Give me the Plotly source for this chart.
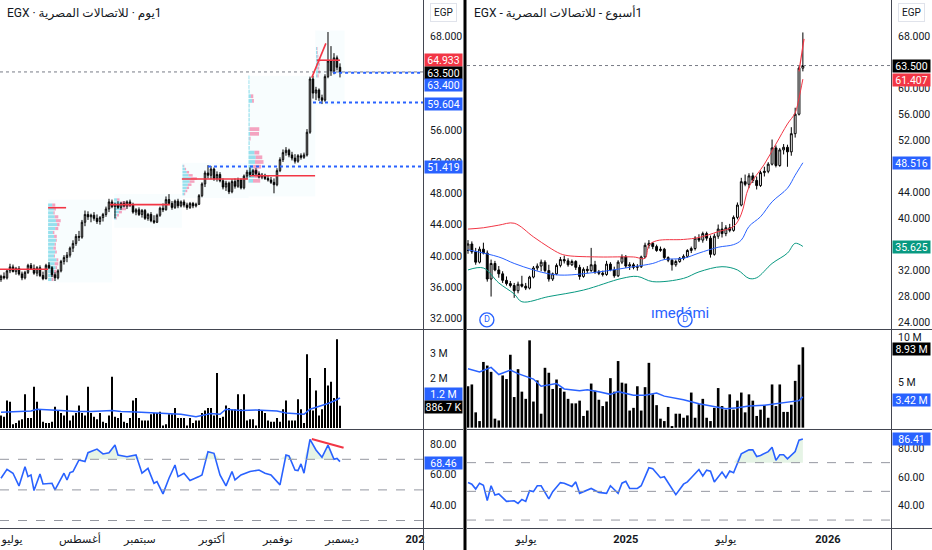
import plotly.graph_objects as go

W, H = 932, 550


def px(x):
    return x / W


def py(y):
    return 1 - y / H


# ---------------- left chart: daily candles ----------------
d_open = [37.0, 37.4, 37.2, 38.1, 38.6, 38.0, 38.4, 37.7, 37.2, 37.9, 38.8, 38.4, 37.8, 38.5, 37.5, 37.1,
          38.8, 38.5, 37.6, 37.2, 38.1, 39.3, 39.8, 40.1, 41.0, 41.6, 42.5, 42.4, 44.3, 45.3, 45.0, 45.2,
          44.8, 44.4, 44.9, 45.3, 46.0, 46.9, 46.3, 46.6, 46.2, 46.7, 46.4, 46.9, 46.5, 45.6, 45.9, 45.3,
          45.8, 44.8, 45.3, 44.5, 44.3, 45.2, 46.1, 45.9, 47.2, 46.7, 46.2, 47.0, 46.4, 46.9, 46.5, 46.2,
          46.7, 46.4, 46.6, 47.7, 49.2, 50.6, 50.3, 51.1, 49.9, 50.4, 49.6, 48.8, 49.3, 48.2, 49.5, 48.9,
          49.7, 48.7, 50.2, 50.7, 50.4, 50.9, 50.5, 50.1, 50.3, 49.9, 49.7, 49.4, 49.1, 50.9, 52.3, 53.2,
          53.5, 52.9, 52.5, 52.1, 52.8, 52.6, 52.9, 55.8, 62.6, 60.8, 61.2, 60.2, 59.9, 62.9, 64.9, 63.6,
          65.3, 64.1]
d_high = [37.6, 37.9, 38.3, 39.0, 38.9, 38.6, 38.7, 38.0, 38.1, 39.0, 39.1, 38.9, 38.7, 38.8, 38.0, 39.0,
          39.2, 38.7, 37.9, 38.3, 39.5, 40.1, 40.5, 41.2, 42.0, 42.8, 43.2, 44.6, 45.8, 45.7, 45.4, 45.6,
          45.3, 45.1, 45.5, 46.3, 47.3, 47.2, 46.8, 47.0, 46.9, 47.0, 47.1, 47.2, 46.8, 46.1, 46.2, 46.0,
          46.0, 45.5, 45.6, 45.2, 45.4, 46.3, 46.7, 47.6, 47.9, 47.0, 47.2, 47.3, 47.1, 47.2, 46.8, 46.9,
          46.9, 46.8, 47.9, 49.4, 50.9, 51.6, 51.5, 51.3, 50.8, 50.7, 49.9, 49.6, 49.5, 49.8, 49.9, 50.0,
          49.9, 50.4, 51.0, 51.3, 51.1, 51.2, 50.8, 50.6, 50.5, 50.3, 50.1, 49.9, 51.2, 52.6, 53.6, 53.9,
          53.7, 53.3, 53.0, 53.0, 53.1, 53.2, 56.2, 62.9, 63.0, 61.6, 61.4, 60.6, 63.2, 68.6, 66.8, 65.9,
          65.6, 64.6]
d_low = [36.7, 37.0, 37.0, 37.8, 37.9, 37.6, 37.5, 36.9, 37.0, 37.7, 38.2, 37.6, 37.4, 37.3, 36.9, 37.0,
         38.3, 37.3, 36.8, 37.0, 37.9, 38.9, 39.2, 39.8, 40.5, 41.3, 41.9, 42.2, 43.8, 44.6, 44.3, 44.5,
         44.1, 44.0, 44.4, 45.0, 45.6, 46.1, 44.8, 46.0, 45.9, 46.2, 46.0, 46.3, 45.4, 45.2, 45.1, 44.9,
         44.6, 44.5, 44.3, 44.1, 44.2, 45.0, 45.6, 45.8, 46.5, 45.9, 46.0, 46.1, 46.2, 46.2, 45.9, 46.0,
         46.1, 46.2, 46.5, 47.5, 48.8, 49.9, 49.8, 49.6, 49.5, 49.4, 48.5, 48.3, 47.9, 48.0, 48.6, 48.7,
         48.5, 48.5, 49.8, 50.1, 50.2, 50.3, 49.9, 49.8, 49.7, 49.5, 49.2, 48.0, 48.9, 50.7, 52.0, 52.8,
         52.6, 52.2, 51.8, 51.9, 52.3, 52.4, 52.7, 55.6, 60.1, 59.9, 59.8, 59.4, 59.7, 62.7, 63.0, 63.2,
         63.7, 62.8]
d_close = [37.4, 37.2, 38.1, 38.6, 38.0, 38.4, 37.7, 37.2, 37.9, 38.8, 38.4, 37.8, 38.5, 37.5, 37.1, 38.8,
           38.5, 37.6, 37.2, 38.1, 39.3, 39.8, 40.1, 41.0, 41.6, 42.5, 42.4, 44.3, 45.3, 45.0, 45.2, 44.8,
           44.4, 44.9, 45.3, 46.0, 46.9, 46.3, 46.6, 46.2, 46.7, 46.4, 46.9, 46.5, 45.6, 45.9, 45.3, 45.8,
           44.8, 45.3, 44.5, 44.3, 45.2, 46.1, 45.9, 47.2, 46.7, 46.2, 47.0, 46.4, 46.9, 46.5, 46.2, 46.7,
           46.4, 46.6, 47.7, 49.2, 50.6, 50.3, 51.1, 49.9, 50.4, 49.6, 48.8, 49.3, 48.2, 49.5, 48.9, 49.7,
           48.7, 50.2, 50.7, 50.4, 50.9, 50.5, 50.1, 50.3, 49.9, 49.7, 49.4, 49.1, 50.9, 52.3, 53.2, 53.5,
           52.9, 52.5, 52.1, 52.8, 52.6, 52.9, 55.8, 62.6, 60.8, 61.2, 60.2, 59.9, 62.9, 64.9, 63.6, 65.3,
           64.1, 63.5]
d_volume = [0.5, 0.45, 1.1, 1.05, 0.15, 0.2, 0.3, 0.35, 1.35, 0.4, 0.4, 1.65, 1.05, 0.75, 0.25, 0.2,
            0.2, 0.25, 0.85, 0.7, 0.6, 0.5, 1.3, 0.3, 0.5, 0.6, 0.9, 0.6, 0.5, 1.65, 0.6, 0.45,
            0.35, 0.6, 0.25, 0.2, 0.5, 2.05, 0.45, 0.4, 0.6, 0.25, 0.2, 0.4, 1.1, 1.2, 0.4, 0.3,
            0.3, 0.3, 0.55, 0.6, 0.6, 0.65, 0.1, 0.15, 0.55, 0.55, 0.8, 0.4, 0.4, 0.4, 0.1, 0.4,
            0.2, 0.3, 0.3, 0.6, 0.7, 0.8, 0.8, 0.5, 2.2, 0.4, 0.45, 0.9, 0.8, 0.75, 0.75, 1.35,
            0.75, 1.35, 0.3, 0.35, 0.35, 0.1, 0.75, 0.7, 0.6, 0.3, 0.25, 0.25, 0.4, 0.25, 0.75, 1.1,
            0.3, 0.3, 0.3, 1.15, 0.75, 0.2, 2.95, 2.0, 0.7, 1.5, 0.5, 0.75, 2.4, 1.7, 1.85, 1.2,
            3.55, 0.89]
d_vma_x = [0, 5, 10, 12, 15, 20, 25, 30, 37, 40, 45, 50, 55, 60, 65, 67, 70, 73, 75, 78, 80, 85, 88,
           92, 95, 98, 101, 103, 106, 109, 111, 113]
d_vma = [0.63, 0.66, 0.68, 0.75, 0.72, 0.70, 0.66, 0.66, 0.70, 0.66, 0.64, 0.62, 0.58, 0.55, 0.45, 0.50,
         0.58, 0.55, 0.75, 0.72, 0.70, 0.72, 0.70, 0.68, 0.60, 0.58, 0.55, 0.75, 0.85, 0.98, 1.08, 1.2]
d_rsi_x = [0, 2, 4, 6, 8, 9, 10, 11, 13, 14, 17, 18, 21, 22, 23, 24, 26, 28, 29, 32, 34, 36, 38, 39,
           42, 45, 47, 49, 51, 52, 54, 56, 58, 59, 61, 63, 66, 67, 69, 71, 73, 75, 77, 78, 80, 83,
           86, 88, 90, 93, 95, 96, 98, 99, 100, 101, 103, 105, 107, 109, 111, 112, 113]
d_rsi = [57.6, 63.5, 60.9, 52.6, 65.2, 58.7, 59.8, 49.6, 60.4, 53.9, 54.3, 50.0, 60.9, 56.5, 61.3, 62.0,
         69.6, 68.5, 74.3, 76.7, 73.5, 74.3, 79.3, 72.8, 71.7, 72.8, 60.9, 64.1, 54.3, 55.4, 47.4, 57.6,
         66.3, 58.7, 60.9, 56.1, 58.7, 59.8, 75.0, 73.9, 59.8, 52.6, 62.0, 56.5, 59.8, 62.0, 63.0, 60.9,
         59.8, 53.3, 72.8, 72.2, 63.0, 62.6, 67.0, 60.9, 83.0, 76.1, 71.3, 79.3, 70.0, 70.6, 68.46]

# visible-range volume profiles (left chart)
vp_base = [15.7, 37.7, 60.5, 82.5, 105.0]
vp_step = [0.5, 0.4, 0.4, 0.6, 0.5]
vp_levels = [
    [37.0, 37.5, 38.0, 38.5, 39.0, 39.5, 40.0, 40.5, 41.0, 41.5, 42.0, 42.5, 43.0, 43.5, 44.0, 44.5,
     45.0, 45.5, 46.0, 46.5],
    [44.8, 45.2, 45.6, 46.0, 46.4, 46.8, 47.2],
    [47.9, 48.3, 48.7, 49.1, 49.5, 49.9, 50.3, 50.7, 51.1, 51.5],
    [49.6, 50.2, 50.8, 51.4, 52.0, 52.6, 53.2, 53.8, 54.4, 55.0, 55.6, 56.2, 56.8, 57.4, 58.0, 58.6,
     59.2, 59.8, 60.4, 61.0, 61.6, 62.2, 62.8],
    [63.0, 63.5, 64.0, 64.5, 65.0, 65.5, 66.0, 66.5],
]
vp_up = [
    [1.2, 1.5, 2.0, 2.5, 2.2, 2.8, 2.0, 2.4, 1.8, 2.2, 2.6, 2.0, 1.6, 2.4, 3.0, 2.6, 2.2, 1.8, 2.0, 1.4],
    [0.6, 1.0, 1.6, 2.4, 3.0, 2.2, 1.0],
    [0.6, 1.0, 1.4, 1.8, 2.4, 2.8, 2.0, 1.4, 0.8, 0.4],
    [1.5, 2.0, 1.8, 1.6, 2.2, 2.4, 2.0, 0.4, 0.4, 0.4, 0.5, 0.4, 0.4, 0.4, 0.4, 0.4, 0.4, 1.2, 0.8, 0.4,
     0.3, 0.3, 0.3],
    [0.5, 0.8, 0.6, 1.0, 0.8, 0.5, 0.4, 0.3],
]
vp_down = [
    [0.6, 0.4, 0.8, 0.5, 1.2, 0.6, 0.3, 0.5, 0.8, 0.4, 0.3, 0.9, 0.5, 1.0, 0.8, 1.6, 1.2, 0.4, 0.6, 1.0],
    [0.3, 0.6, 1.0, 1.6, 2.6, 1.8, 0.8],
    [0.3, 0.6, 0.8, 1.2, 1.6, 2.0, 1.4, 0.8, 0.4, 0.2],
    [2.4, 2.8, 1.4, 2.6, 2.8, 2.2, 1.6, 0.0, 0.0, 0.3, 3.0, 3.2, 0.0, 0.0, 0.0, 0.0, 0.0, 0.6, 0.8, 0.0,
     0.0, 0.0, 0.0],
    [0.4, 0.6, 0.5, 0.3, 0.6, 0.3, 0.2, 0.2],
]
# point of control lines: (start idx, end idx, price)
poc_x0 = [-1, 15.7, 36.3, 60.3, 83.0, 105.3]
poc_x1 = [15.7, 21.7, 56.3, 82.3, 104.7, 113.0]
poc_y = [38.3, 46.16, 46.55, 49.83, 50.25, 65.0]
# blue dotted levels: (start idx, price)
lvl_x0 = [69.0, 104.0, 110.7]
lvl_y = [51.419, 59.604, 63.4]

# ---------------- right chart: weekly candles ----------------
w_open = [35.0, 36.0, 34.8, 33.2, 35.2, 34.6, 30.6, 33.0, 32.0, 31.4, 30.4, 29.9, 29.6, 28.8, 29.8, 29.5,
          29.2, 30.9, 32.3, 32.6, 33.2, 31.9, 30.6, 31.4, 32.7, 33.6, 33.4, 32.8, 33.3, 32.4, 31.0, 32.1,
          31.9, 32.8, 31.7, 31.5, 31.3, 32.9, 32.0, 31.1, 33.2, 34.0, 32.6, 32.8, 32.4, 32.5, 34.0, 35.8,
          36.1, 35.6, 35.0, 35.2, 33.9, 33.5, 32.8, 33.3, 33.8, 34.1, 35.0, 35.3, 36.9, 36.6, 37.6, 36.9,
          34.4, 37.2, 38.3, 37.6, 38.5, 38.1, 40.1, 42.0, 45.6, 45.2, 46.5, 45.8, 45.0, 47.0, 47.2, 48.3,
          50.8, 48.1, 50.5, 50.9, 50.2, 53.0, 56.0, 63.1]
w_high = [36.6, 36.4, 35.4, 35.6, 36.2, 35.0, 33.6, 33.4, 32.6, 31.8, 31.0, 30.3, 30.0, 30.2, 31.1, 30.0,
          31.1, 32.6, 33.0, 33.6, 33.5, 32.8, 31.6, 33.0, 34.0, 34.2, 33.8, 33.6, 33.5, 32.8, 32.4, 32.6,
          35.4, 33.4, 32.0, 31.9, 33.4, 33.2, 32.5, 33.5, 34.4, 34.3, 33.2, 33.1, 32.9, 34.2, 36.2, 36.6,
          36.3, 35.9, 35.6, 35.4, 34.1, 33.7, 33.6, 34.0, 34.4, 35.2, 35.6, 37.2, 37.5, 37.9, 37.9, 37.3,
          37.6, 39.0, 39.4, 38.9, 39.1, 40.4, 42.4, 46.2, 46.7, 46.9, 47.0, 46.4, 47.3, 47.9, 48.6, 52.1,
          51.2, 50.8, 51.4, 51.3, 54.0, 57.0, 63.4, 68.6]
w_low = [34.5, 34.5, 32.8, 33.0, 34.4, 30.2, 27.9, 31.8, 30.8, 30.0, 29.6, 29.3, 27.7, 28.4, 29.3, 28.9,
         29.0, 30.7, 31.9, 31.8, 31.6, 30.2, 30.3, 31.2, 32.4, 33.0, 32.5, 32.6, 32.0, 30.5, 30.8, 31.5,
         31.7, 31.4, 31.2, 31.0, 31.1, 31.8, 30.8, 30.9, 32.9, 32.3, 32.0, 32.1, 31.9, 32.3, 33.8, 35.3,
         35.2, 34.8, 34.8, 33.6, 33.2, 31.9, 32.5, 33.1, 33.5, 33.9, 34.6, 35.0, 36.3, 36.2, 36.5, 33.9,
         34.2, 36.8, 37.0, 37.2, 37.8, 37.9, 39.8, 41.8, 44.9, 44.6, 45.4, 44.4, 44.8, 46.4, 46.9, 48.1,
         47.8, 47.9, 49.8, 47.9, 49.6, 52.4, 55.8, 62.6]
w_close = [36.0, 34.8, 33.2, 35.2, 34.6, 30.6, 33.0, 32.0, 31.4, 30.4, 29.9, 29.6, 28.8, 29.8, 29.5, 29.2,
           30.9, 32.3, 32.6, 33.2, 31.9, 30.6, 31.4, 32.7, 33.6, 33.4, 32.8, 33.3, 32.4, 31.0, 32.1, 31.9,
           32.8, 31.7, 31.5, 31.3, 32.9, 32.0, 31.1, 33.2, 34.0, 32.6, 32.8, 32.4, 32.5, 34.0, 35.8, 36.1,
           35.6, 35.0, 35.2, 33.9, 33.5, 32.8, 33.3, 33.8, 34.1, 35.0, 35.3, 36.9, 36.6, 37.6, 36.9, 34.4,
           37.2, 38.3, 37.6, 38.5, 38.1, 40.1, 42.0, 45.6, 45.2, 46.5, 45.8, 45.0, 47.0, 47.2, 48.3, 50.8,
           48.1, 50.5, 50.9, 50.2, 53.0, 56.0, 63.1, 63.5]
w_volume = [4.6, 4.8, 1.7, 0.73, 7.3, 6.9, 6.2, 1.0, 0.8, 5.8, 5.4, 8.1, 3.4, 6.5, 4.0, 3.2,
            9.7, 2.9, 5.25, 1.55, 6.65, 6.1, 4.3, 5.35, 4.4, 4.0, 3.2, 2.7, 2.7, 3.0, 1.3, 1.9,
            4.9, 4.1, 3.1, 2.4, 2.9, 5.5, 4.0, 7.4, 5.0, 4.9, 1.9, 2.2, 4.6, 1.9, 4.5, 7.2,
            3.7, 2.5, 1.0, 0.73, 2.3, 0.15, 1.55, 1.55, 1.1, 1.36, 3.9, 1.1, 2.6, 3.2, 1.1, 0.73,
            2.2, 4.4, 2.4, 2.0, 3.7, 2.0, 3.0, 3.9, 1.7, 3.7, 3.0, 1.3, 2.0, 2.5, 1.1, 4.8,
            2.4, 4.8, 1.75, 1.75, 2.55, 5.2, 7.0, 8.93]
w_vma_x = [0, 3, 6, 8, 11, 13, 17, 19, 23, 25, 29, 31, 34, 37, 39, 43, 46, 49, 51, 56, 60, 63, 67, 70,
           73, 77, 81, 84, 86, 87]
w_vma = [6.55, 6.2, 6.7, 5.9, 6.4, 6.0, 5.4, 4.6, 4.9, 4.3, 4.1, 4.2, 4.0, 3.7, 4.0, 3.6, 3.6, 3.85, 3.5,
         3.1, 2.65, 2.4, 2.1, 2.2, 2.4, 2.5, 2.7, 2.85, 3.0, 3.42]
w_rsi_x = [0, 1, 2, 3, 4, 5, 6, 7, 8, 10, 12, 13, 14, 15, 16, 17, 18, 19, 21, 22, 24, 25, 27, 28, 29,
           31, 32, 34, 36, 37, 39, 40, 41, 42, 44, 45, 47, 48, 50, 51, 53, 54, 56, 57, 58, 60, 61, 62,
           63, 64, 66, 67, 68, 69, 71, 73, 74, 75, 76, 77, 78, 79, 80, 81, 82, 83, 85, 86, 87]
w_rsi = [56.1, 55.0, 51.6, 55.7, 54.3, 43.6, 53.9, 47.5, 48.2, 43.0, 43.4, 41.6, 44.3, 43.0, 50.5, 49.8,
         53.9, 53.9, 44.8, 49.8, 56.1, 55.7, 53.4, 56.6, 48.6, 51.1, 52.0, 49.3, 48.6, 53.9, 48.6, 55.7,
         57.0, 52.0, 52.0, 53.9, 66.4, 65.7, 59.5, 60.2, 51.6, 47.7, 55.0, 56.6, 59.5, 65.2, 60.7, 64.8,
         64.1, 56.6, 63.4, 59.5, 64.1, 63.0, 76.1, 78.9, 78.9, 74.3, 75.0, 76.6, 77.7, 80.7, 71.6, 75.5,
         75.5, 72.7, 77.7, 85.7, 86.41]
# bollinger bands (weekly)
bb_up_x = [0, 4, 8, 12, 17, 21, 24, 26, 34, 43, 46, 47, 49, 56, 60, 65, 69, 71, 73, 77, 80, 83, 85, 86, 87]
bb_up = [38.3, 38.5, 38.9, 39.2, 37.1, 35.5, 34.5, 34.2, 34.0, 34.0, 33.8, 35.8, 36.5, 36.7, 37.0, 37.9,
         38.7, 40.6, 44.8, 48.3, 51.4, 54.5, 56.2, 58.5, 61.407]
bb_mid_x = [0, 8, 12, 17, 21, 25, 34, 43, 48, 51, 56, 60, 65, 69, 71, 73, 76, 79, 83, 85, 87]
bb_mid = [35.1, 34.0, 33.0, 32.0, 31.4, 31.2, 31.7, 32.5, 33.0, 33.6, 33.8, 34.6, 35.5, 35.9, 36.6, 38.7,
          40.2, 42.5, 44.6, 46.6, 48.516]
bb_low_x = [0, 4, 8, 12, 14, 21, 30, 40, 44, 48, 56, 60, 66, 70, 73, 75, 79, 83, 85, 87]
bb_low = [32.0, 32.3, 30.0, 28.3, 27.1, 27.9, 28.9, 30.7, 31.0, 30.2, 30.7, 31.7, 32.5, 32.0, 30.7, 30.8,
          33.0, 34.6, 36.1, 35.625]
div_x = [4.9, 56.4]

# ---------------- axis text ----------------
LRM, RLM = "\u200e", "\u200f"
l_title = "EGX · المصرية" + LRM + " للاتصالات" + LRM + " · " + LRM + RLM + "1يوم"
r_title = "EGX - المصرية" + LRM + " للاتصالات" + LRM + " - " + LRM + RLM + "1أسبوع"
l_month_pos = [3.7, 26.3, 46.3, 70.3, 92.3, 113.7, 138]
l_month_txt = ["يوليو", "أغسطس", "سبتمبر", "أكتوبر", "نوفمبر", "ديسمبر", "<b>202</b>"]
r_month_pos = [15.1, 41.0, 67.0, 93.5]
r_month_txt = ["يوليو", "<b>2025</b>", "يوليو", "<b>2026</b>"]
l_price_ticks = [32, 36, 40, 44, 48, 52, 56, 68]
r_price_ticks = [24, 28, 32, 40, 44, 52, 56, 60, 68]

INK = "#131722"
BLUE = "#2962ff"
RED = "#f23645"
GREEN = "#089981"
LINE = "#434651"
FONT = "Roboto, 'DejaVu Sans', sans-serif"

L_X = [0, px(423)]
R_X = [px(467), px(891)]
PRICE_Y = [py(329), py(0)]
VOL_Y = [py(429), py(330)]
RSI_Y = [py(528), py(430)]

fig = go.Figure()

# volume profiles
for base, step, lv, up, dn in zip(vp_base, vp_step, vp_levels, vp_up, vp_down):
    fig.add_trace(go.Bar(y=lv, x=up, base=[base] * len(lv), orientation="h", width=step * 0.8,
                         marker=dict(color="rgba(70,200,222,0.55)", line=dict(width=0)),
                         xaxis="x", yaxis="y"))
    fig.add_trace(go.Bar(y=lv, x=dn, base=[base + u for u in up], orientation="h", width=step * 0.8,
                         marker=dict(color="rgba(240,90,140,0.55)", line=dict(width=0)),
                         xaxis="x", yaxis="y"))

candle_style = dict(
    increasing=dict(line=dict(color="#000000", width=1), fillcolor="#ffffff"),
    decreasing=dict(line=dict(color="#000000", width=1), fillcolor="#000000"),
    whiskerwidth=0, hoverinfo="skip",
)
fig.add_trace(go.Candlestick(x=list(range(len(d_close))), open=d_open, high=d_high, low=d_low,
                             close=d_close, xaxis="x", yaxis="y", **candle_style))

# left volume + MA
fig.add_trace(go.Bar(x=list(range(len(d_volume))), y=d_volume, width=0.62,
                     marker=dict(color="#000000", line=dict(width=0)), xaxis="x3", yaxis="y3"))
fig.add_trace(go.Scatter(x=d_vma_x, y=d_vma, mode="lines", line=dict(color=BLUE, width=1.5),
                         xaxis="x3", yaxis="y3"))

# left RSI with fill above 70
fig.add_trace(go.Scatter(x=d_rsi_x, y=[70] * len(d_rsi_x), mode="lines", line=dict(width=0),
                         xaxis="x5", yaxis="y5"))
fig.add_trace(go.Scatter(x=d_rsi_x, y=[max(v, 70) for v in d_rsi], mode="lines", line=dict(width=0),
                         fill="tonexty", fillcolor="rgba(76,175,80,0.14)", xaxis="x5", yaxis="y5"))
fig.add_trace(go.Scatter(x=d_rsi_x, y=d_rsi, mode="lines", line=dict(color=BLUE, width=1.6),
                         xaxis="x5", yaxis="y5"))

# right: bollinger + candles
fig.add_trace(go.Scatter(x=bb_up_x, y=bb_up, mode="lines", line=dict(color=RED, width=1, shape="spline"),
                         xaxis="x2", yaxis="y2"))
fig.add_trace(go.Scatter(x=bb_mid_x, y=bb_mid, mode="lines", line=dict(color=BLUE, width=1, shape="spline"),
                         xaxis="x2", yaxis="y2"))
fig.add_trace(go.Scatter(x=bb_low_x, y=bb_low, mode="lines", line=dict(color=GREEN, width=1, shape="spline"),
                         xaxis="x2", yaxis="y2"))
fig.add_trace(go.Candlestick(x=list(range(len(w_close))), open=w_open, high=w_high, low=w_low,
                             close=w_close, xaxis="x2", yaxis="y2", **candle_style))
fig.add_trace(go.Scatter(x=[55.1], y=[25.1], mode="text", text=["ımedámi"],
                         textfont=dict(color=BLUE, size=15, family=FONT), xaxis="x2", yaxis="y2"))
fig.add_trace(go.Scatter(x=div_x, y=[24.3] * len(div_x), mode="markers+text", text=["D"] * len(div_x),
                         textposition="middle center", textfont=dict(color=BLUE, size=9, family=FONT),
                         marker=dict(size=14, color="#ffffff", line=dict(color=BLUE, width=1.4)),
                         xaxis="x2", yaxis="y2"))

# right volume + MA
fig.add_trace(go.Bar(x=list(range(len(w_volume))), y=w_volume, width=0.68,
                     marker=dict(color="#000000", line=dict(width=0)), xaxis="x4", yaxis="y4"))
fig.add_trace(go.Scatter(x=w_vma_x, y=w_vma, mode="lines", line=dict(color=BLUE, width=1.5),
                         xaxis="x4", yaxis="y4"))

# right RSI
fig.add_trace(go.Scatter(x=w_rsi_x, y=[70] * len(w_rsi_x), mode="lines", line=dict(width=0),
                         xaxis="x6", yaxis="y6"))
fig.add_trace(go.Scatter(x=w_rsi_x, y=[max(v, 70) for v in w_rsi], mode="lines", line=dict(width=0),
                         fill="tonexty", fillcolor="rgba(76,175,80,0.14)", xaxis="x6", yaxis="y6"))
fig.add_trace(go.Scatter(x=w_rsi_x, y=w_rsi, mode="lines", line=dict(color=BLUE, width=1.6),
                         xaxis="x6", yaxis="y6"))

# ---------------- axes ----------------
L_RANGE = [-0.33, 140.67]
R_RANGE = [-0.26, 109.9]
tick_font = dict(family=FONT, size=10.5, color=INK)


def xax(domain, rng, anchor, labels=None):
    d = dict(domain=domain, range=rng, anchor=anchor, showgrid=False, zeroline=False,
             showline=False, ticks="", rangeslider=dict(visible=False), fixedrange=True)
    if labels:
        d.update(tickmode="array", tickvals=labels[0], ticktext=labels[1],
                 tickfont=dict(family=FONT, size=11, color=INK), ticklabelstandoff=3)
    else:
        d.update(showticklabels=False)
    return d


def yax(domain, rng, anchor, vals, texts):
    return dict(domain=domain, range=rng, anchor=anchor, side="right", showgrid=False,
                zeroline=False, showline=False, ticks="", tickmode="array", tickvals=vals,
                ticktext=texts, tickfont=tick_font, ticklabelstandoff=6, fixedrange=True)


fig.update_layout(
    xaxis=xax(L_X, L_RANGE, "y"),
    xaxis3=xax(L_X, L_RANGE, "y3"),
    xaxis5=xax(L_X, L_RANGE, "y5", (l_month_pos, l_month_txt)),
    xaxis2=xax(R_X, R_RANGE, "y2"),
    xaxis4=xax(R_X, R_RANGE, "y4"),
    xaxis6=xax(R_X, R_RANGE, "y6", (r_month_pos, r_month_txt)),
    yaxis=yax(PRICE_Y, [30.67, 72.69], "x", l_price_ticks, [f"{v:.3f}" for v in l_price_ticks]),
    yaxis3=yax(VOL_Y, [-0.04, 3.92], "x3", [2, 3], ["2 M", "3 M"]),
    yaxis5=yax(RSI_Y, [25.1, 89.15], "x5", [40, 60, 80], ["40.00", "60.00", "80.00"]),
    yaxis2=yax(PRICE_Y, [22.9, 73.6], "x2", r_price_ticks, [f"{v:.3f}" for v in r_price_ticks]),
    yaxis4=yax(VOL_Y, [-0.15, 10.85], "x4", [5, 10], ["5 M", "10 M"]),
    yaxis6=yax(RSI_Y, [24.46, 92.75], "x6", [40, 60, 80], ["40.00", "60.00", "80.00"]),
)

shapes = []
# faint visible-range shading behind the profiles
shade = [(15.7, 37.0, 36.6, 47.2), (37.7, 60.3, 43.6, 47.9), (60.3, 82.5, 47.4, 51.9),
         (82.5, 104.8, 47.6, 63.0), (104.8, 114.5, 59.2, 68.8)]
for x0, x1, y0, y1 in shade:
    shapes.append(dict(type="rect", xref="x", yref="y", x0=x0, x1=x1, y0=y0, y1=y1,
                       fillcolor="rgba(178,235,242,0.09)", line=dict(width=0), layer="below"))
# last price lines
for xr, yr in (("x domain", "y"), ("x2 domain", "y2")):
    shapes.append(dict(type="line", xref=xr, yref=yr, x0=0, x1=1, y0=63.5, y1=63.5,
                       line=dict(color="#787b86", width=1, dash="dot")))
# POC lines and drawings
for x0, x1, y in zip(poc_x0, poc_x1, poc_y):
    shapes.append(dict(type="line", xref="x", yref="y", x0=x0, x1=x1, y0=y, y1=y,
                       line=dict(color=RED, width=1.6)))
shapes.append(dict(type="line", xref="x", yref="y", x0=103.6, x1=108.3, y0=62.77, y1=67.15,
                   line=dict(color=RED, width=1.6)))
for x0, y in zip(lvl_x0, lvl_y):
    shapes.append(dict(type="line", xref="x", yref="y", x0=x0, x1=L_RANGE[1], y0=y, y1=y,
                       line=dict(color=BLUE, width=2, dash="dot")))
shapes.append(dict(type="line", xref="x2", yref="y2", x0=86.0, x1=87.3, y0=62.6, y1=67.6,
                   line=dict(color=RED, width=1.2)))
shapes.append(dict(type="line", xref="x5", yref="y5", x0=103.6, x1=114.2, y0=83.3, y1=77.6,
                   line=dict(color=RED, width=2)))
# RSI guide lines
for xr, yr in (("x5 domain", "y5"), ("x6 domain", "y6")):
    for lvl in (30, 50, 70):
        shapes.append(dict(type="line", xref=xr, yref=yr, x0=0, x1=1, y0=lvl, y1=lvl,
                           line=dict(color="#9598a1", width=1, dash="dash")))
# pane separators and borders
for x0, x1 in ((0, 463), (467, 932)):
    for yy in (329.5, 429.5, 528.5):
        shapes.append(dict(type="line", xref="paper", yref="paper", x0=px(x0), x1=px(x1),
                           y0=py(yy), y1=py(yy), line=dict(color=LINE, width=1)))
for xx in (423.5, 891.5):
    shapes.append(dict(type="line", xref="paper", yref="paper", x0=px(xx), x1=px(xx), y0=0, y1=1,
                       line=dict(color=LINE, width=1)))
shapes.append(dict(type="line", xref="paper", yref="paper", x0=px(465), x1=px(465), y0=0, y1=1,
                   line=dict(color="#000000", width=3)))
fig.update_layout(shapes=shapes)

# axis value boxes
boxes = [
    (424, 60, "64.933", RED), (424, 72.5, "63.500", "#000000"), (424, 85, "63.400", BLUE),
    (424, 103.5, "59.604", BLUE), (424, 167, "51.419", BLUE), (424, 394, "1.2 M", BLUE),
    (424, 407, "886.7 K", "#000000"), (424, 462.5, "68.46", BLUE),
    (892, 65.5, "63.500", "#000000"), (892, 79.5, "61.407", RED), (892, 163, "48.516", BLUE),
    (892, 247.5, "35.625", GREEN), (892, 349, "8.93 M", "#000000"), (892, 399.5, "3.42 M", BLUE),
    (892, 439, "86.41", BLUE),
]
ann = []
for x, y, t, c in boxes:
    ann.append(dict(xref="paper", yref="paper", x=px(x), y=py(y), xanchor="left", yanchor="middle",
                    text=t, showarrow=False, bgcolor=c, width=37, height=12, borderpad=0,
                    font=dict(family=FONT, size=10.5, color="#ffffff")))
for x in (443, 911):
    ann.append(dict(xref="paper", yref="paper", x=px(x), y=py(12.5), xanchor="center", yanchor="middle",
                    text="EGP", showarrow=False, bordercolor="#e0e3eb", borderwidth=1, borderpad=3,
                    bgcolor="#ffffff", font=dict(family=FONT, size=10, color=INK)))
ann.append(dict(xref="paper", yref="paper", x=px(5), y=py(13), xanchor="left", yanchor="middle",
                text=l_title, showarrow=False, font=dict(family=FONT, size=12, color=INK)))
ann.append(dict(xref="paper", yref="paper", x=px(472), y=py(13), xanchor="left", yanchor="middle",
                text=r_title, showarrow=False, font=dict(family=FONT, size=12, color=INK)))
fig.update_layout(annotations=ann)

fig.update_layout(
    width=W, height=H, margin=dict(l=0, r=0, t=0, b=0),
    paper_bgcolor="#ffffff", plot_bgcolor="#ffffff",
    showlegend=False, barmode="overlay", hovermode=False,
    font=dict(family=FONT, color=INK),
)

fig.write_html("out.html", config={"displayModeBar": False},
               post_script="document.body.style.margin='0';")
